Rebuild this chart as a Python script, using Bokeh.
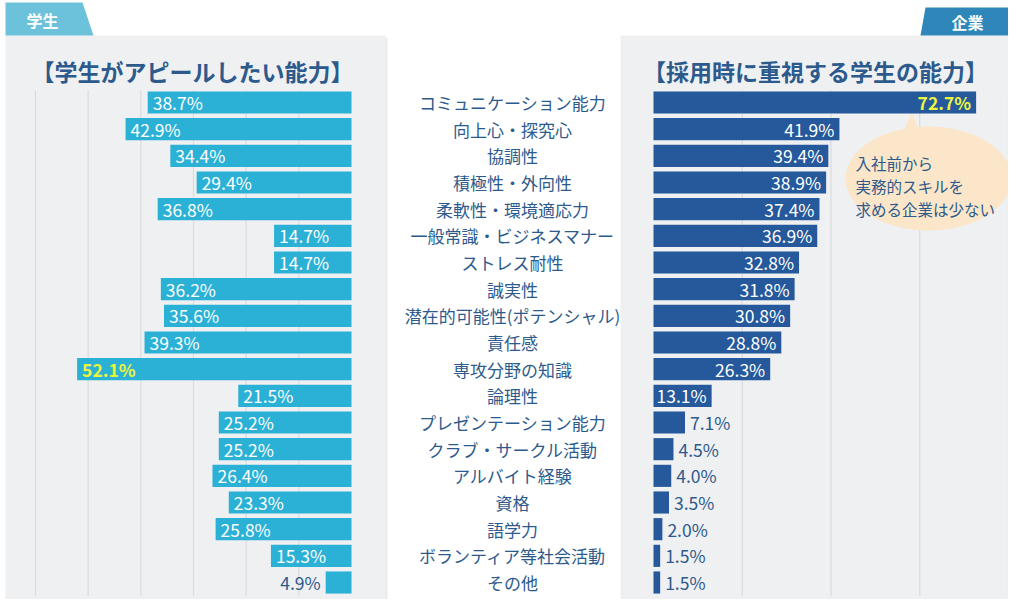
from bokeh.plotting import figure
from bokeh.models import Range1d, ColumnDataSource
from bokeh.core.properties import value
from bokeh.embed import file_html
from bokeh.resources import INLINE

# ---------------- data ----------------
categories = [
    "コミュニケーション能力", "向上心・探究心", "協調性", "積極性・外向性",
    "柔軟性・環境適応力", "一般常識・ビジネスマナー", "ストレス耐性", "誠実性",
    "潜在的可能性(ポテンシャル)", "責任感", "専攻分野の知識", "論理性",
    "プレゼンテーション能力", "クラブ・サークル活動", "アルバイト経験", "資格",
    "語学力", "ボランティア等社会活動", "その他",
]
student_values = [38.7, 42.9, 34.4, 29.4, 36.8, 14.7, 14.7, 36.2, 35.6, 39.3,
                  52.1, 21.5, 25.2, 25.2, 26.4, 23.3, 25.8, 15.3, 4.9]
company_values = [72.7, 41.9, 39.4, 38.9, 37.4, 36.9, 32.8, 31.8, 30.8, 28.8,
                  26.3, 13.1, 7.1, 4.5, 4.0, 3.5, 2.0, 1.5, 1.5]
student_ticks = [10, 20, 30, 40, 50, 60]
company_ticks = [20, 40, 60, 80]

left_title = "【学生がアピールしたい能力】"
right_title = "【採用時に重視する学生の能力】"
left_tab = "学生"
right_tab = "企業"
callout_lines = ["入社前から", "実務的スキルを", "求める企業は少ない"]

# ---------------- styles ----------------
FONT = "Noto Sans CJK JP"
STU_COLOR = "#2bb1d6"
CO_COLOR = "#25599b"
TEXT_DARK = "#2d5a8c"
PANEL = "#eff0f2"
GRID = "#d9dbe0"
HILITE = "#ecf53e"
CALLOUT = "#fce6c9"

W, H = 1008, 599
p = figure(width=W, height=H, output_backend="svg", toolbar_location=None,
           x_range=Range1d(0, W), y_range=Range1d(H, 0),
           x_axis_type=None, y_axis_type=None, min_border=0,
           outline_line_color=None, background_fill_color="white",
           border_fill_color="white")
p.xgrid.visible = False
p.ygrid.visible = False

# value scales mapped onto the frame
stu_px = 316 / 60.0          # px per % (left chart, 0 at x=351)
co_px = 355 / 80.0           # px per % (right chart, 0 at x=653)
row_px = 26.667              # px per row (row 0 at y=102)
p.extra_x_ranges = {
    "stu": Range1d(351 / stu_px, (351 - W) / stu_px),
    "co": Range1d(-653 / co_px, (W - 653) / co_px),
}
p.extra_y_ranges = {"rows": Range1d((H - 102) / row_px, -102 / row_px)}

# ---------------- panels & tabs ----------------
p.quad(left=[7, 622], right=[387, 1011], top=[37, 37], bottom=[612, 612],
       fill_color="#dcdde0", fill_alpha=0.6, line_color=None)
p.quad(left=[5, 620], right=[385, 1009], top=[35, 35], bottom=[609, 609],
       fill_color=PANEL, line_color=None)
p.patch([5, 82, 93, 5], [2, 2, 35, 35], fill_color="#6cc2da", line_color=None)
p.patch([925, 1008, 1008, 920], [7, 7, 35, 35], fill_color="#2f87b9", line_color=None)
p.text(x=[42, 967], y=[19, 21], text=[left_tab, right_tab], text_color="white",
       text_font=value(FONT), text_font_style="bold", text_font_size="16px",
       text_align="center", text_baseline="middle")
p.text(x=[192, 815], y=[70, 70], text=[left_title, right_title], text_color=TEXT_DARK,
       text_font=value(FONT), text_font_style="bold", text_font_size="23px",
       text_align="center", text_baseline="middle")

# ---------------- gridlines ----------------
n = len(categories)
p.segment(x0=student_ticks, x1=student_ticks, y0=[-0.45] * len(student_ticks),
          y1=[n - 0.5] * len(student_ticks), x_range_name="stu", y_range_name="rows",
          line_color=GRID, line_width=1.2)
p.segment(x0=company_ticks, x1=company_ticks, y0=[-0.45] * len(company_ticks),
          y1=[n - 0.5] * len(company_ticks), x_range_name="co", y_range_name="rows",
          line_color=GRID, line_width=1.2)

# ---------------- callout ----------------
p.patch([897, 925, 911], [145, 145, 112], fill_color=CALLOUT, line_color=None)
p.ellipse(x=[928], y=[178], width=[166], height=[104], fill_color=CALLOUT, line_color=None)
p.text(x=[855] * 3, y=[162, 185, 208], text=callout_lines, text_color=TEXT_DARK,
       text_font=value(FONT), text_font_size="15.5px", text_align="left",
       text_baseline="middle")

# ---------------- bars ----------------
idx = list(range(n))
smax = max(student_values)
cmax = max(company_values)

stu = ColumnDataSource(dict(
    y=idx, v=student_values, zero=[0] * n,
    lab=[f"{v:.1f}%" for v in student_values],
    off=[5 if v >= 8 else -5 for v in student_values],
    align=["left" if v >= 8 else "right" for v in student_values],
    col=[(HILITE if v == smax else "white") if v >= 8 else TEXT_DARK for v in student_values],
    style=["bold" if v == smax else "normal" for v in student_values],
))
co = ColumnDataSource(dict(
    y=idx, v=company_values, zero=[0] * n,
    lab=[f"{v:.1f}%" for v in company_values],
    off=[-5 if v >= 10 else 5 for v in company_values],
    align=["right" if v >= 10 else "left" for v in company_values],
    col=[(HILITE if v == cmax else "white") if v >= 10 else TEXT_DARK for v in company_values],
    style=["bold" if v == cmax else "normal" for v in company_values],
))

p.hbar(y="y", left="v", right="zero", height=0.83, source=stu,
       x_range_name="stu", y_range_name="rows", fill_color=STU_COLOR, line_color=None)
p.hbar(y="y", left="zero", right="v", height=0.83, source=co,
       x_range_name="co", y_range_name="rows", fill_color=CO_COLOR, line_color=None)

p.text(x="v", y="y", text="lab", x_offset="off", text_align="align",
       text_color="col", text_font_style="style", source=stu,
       x_range_name="stu", y_range_name="rows", text_font=value(FONT),
       text_font_size="17.5px", text_baseline="middle")
p.text(x="v", y="y", text="lab", x_offset="off", text_align="align",
       text_color="col", text_font_style="style", source=co,
       x_range_name="co", y_range_name="rows", text_font=value(FONT),
       text_font_size="17.5px", text_baseline="middle")

# ---------------- centre category labels ----------------
cat_src = ColumnDataSource(dict(y=idx, text=categories, x=[512] * n))
p.text(x="x", y="y", text="text", source=cat_src, y_range_name="rows",
       text_color=TEXT_DARK, text_font=value(FONT), text_font_size="17px",
       text_align="center", text_baseline="middle")

open("out.html", "w").write(file_html(p, INLINE))
